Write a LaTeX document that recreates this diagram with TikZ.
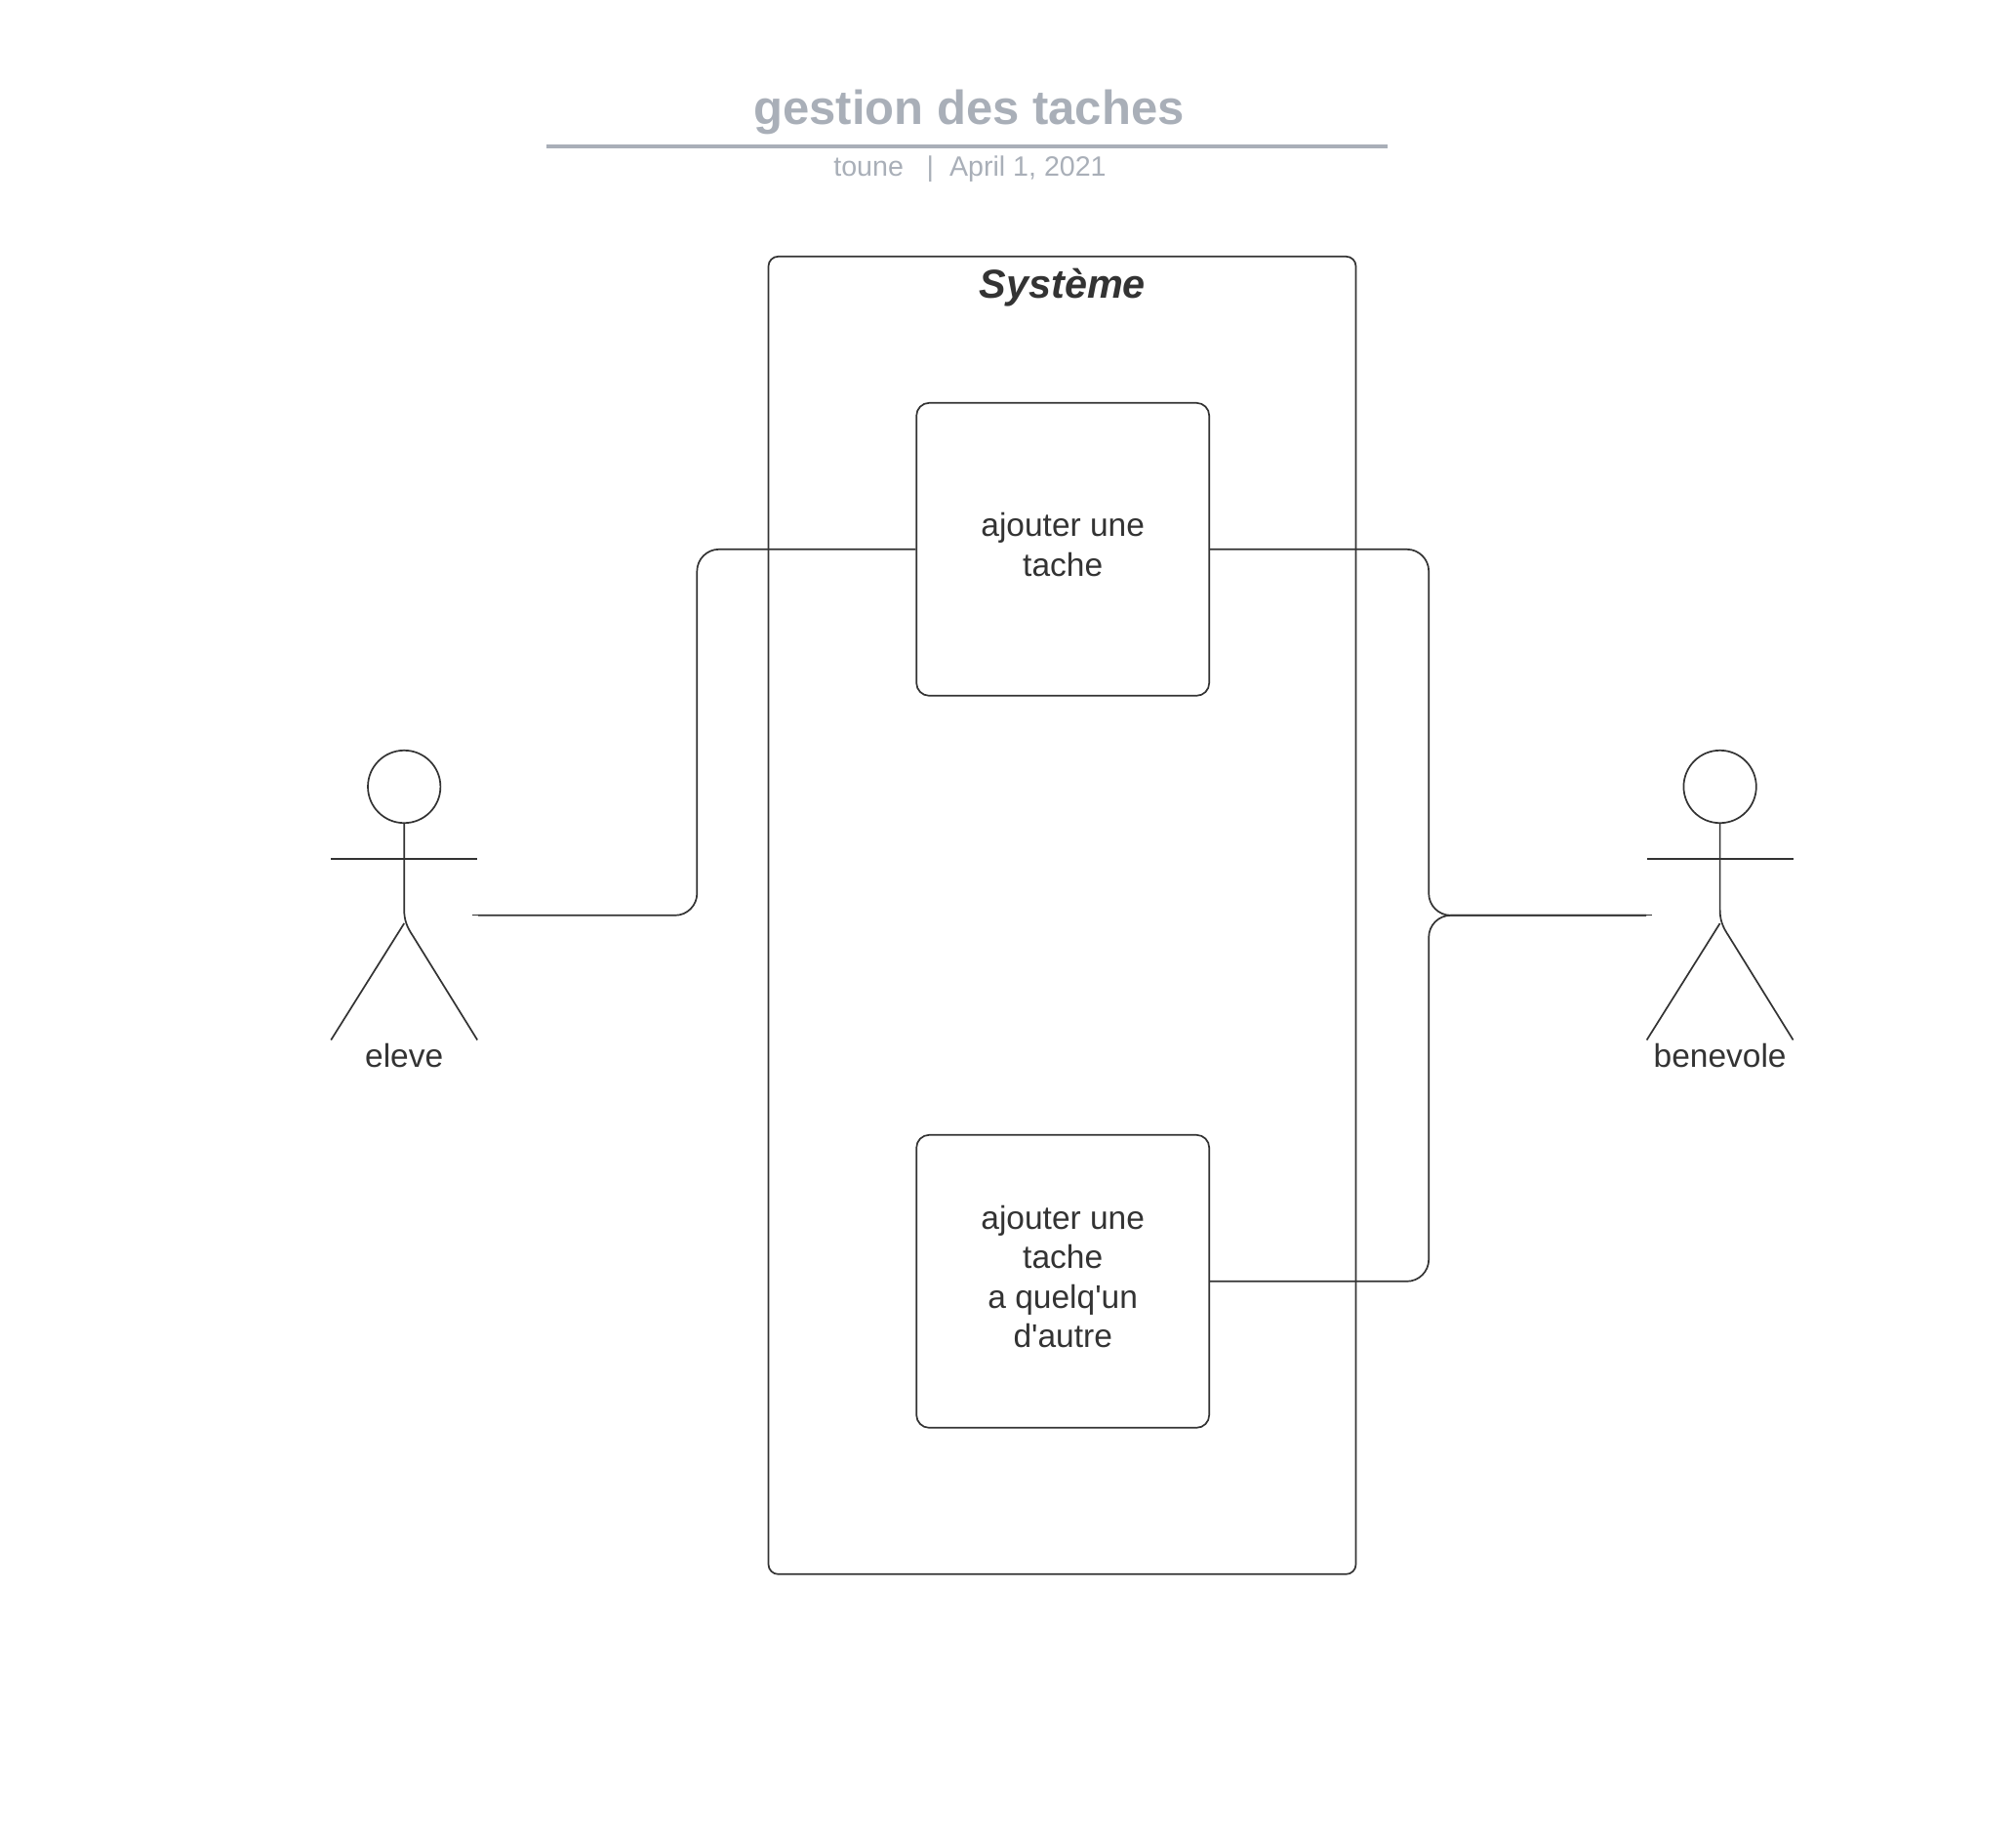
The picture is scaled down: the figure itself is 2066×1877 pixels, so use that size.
\documentclass[tikz,border=0pt]{standalone}
\usepackage{fontspec}
\setmainfont{Liberation Sans}[Ligatures=TeXOff]
\definecolor{ink}{HTML}{333333}
\definecolor{ttl}{HTML}{A9AFB8}
\tikzset{
  x=1pt,y=-1pt,
  ln/.style={draw=ink,line width=1.7pt},
  conn/.style={ln,rounded corners=22.5pt},
  stub/.style={draw=ink,line width=1pt},
  usecase/.style={draw=ink,line width=1.7pt,rounded corners=13pt,minimum width=300pt,minimum height=300pt,inner sep=0pt},
  casetext/.style={align=center,text=ink,inner sep=0pt,font=\fontsize{33.5pt}{40.5pt}\selectfont},
  sysbox/.style={draw=ink,line width=1.7pt,rounded corners=10pt,minimum width=602pt,minimum height=1350pt,inner sep=0pt},
  actorlabel/.style={text=ink,font=\fontsize{33.5pt}{40pt}\selectfont,inner sep=0pt,anchor=base},
}
\newcommand{\actor}[1]{%
  \draw[ln] (#1,806) circle[radius=37.2];
  \draw[ln] (#1,843.2) -- (#1,932) .. controls (#1,943) and (#1+3,950) .. (#1+9,959) -- (#1+75,1065.5);
  \draw[ln] (#1-75,880) -- (#1+75,880);
  \draw[ln] (#1,946) -- (#1-75,1065.5);
}
\begin{document}
\begin{tikzpicture}
\useasboundingbox (0,0) rectangle (2066,1877);
\node[sysbox] (sys) at (1088.5,937.8) {};
\node[usecase] (add) at (1089.2,562.8) {};
\node[usecase] (other) at (1089.2,1312.8) {};
\node[casetext] (addtext) at (1089.2,558) {ajouter une\\tache};
\node[casetext] (othertext) at (1089.2,1308) {ajouter une\\tache\\a quelq'un\\d'autre};
\node[font=\bfseries\itshape\fontsize{41.4pt}{50pt}\selectfont,text=ink,anchor=base,inner sep=0pt] (systitle) at (1088.8,305.5) {Système};
\node[font=\bfseries\fontsize{49pt}{60pt}\selectfont,text=ttl,anchor=base,inner sep=0pt] (title) at (993,127) {gestion des taches};
\coordinate (tl) at (560,150);
\coordinate (tr) at (1422,150);
\draw[draw=ttl,line width=4pt] (tl) -- (tr);
\node[font=\fontsize{28.6pt}{35pt}\selectfont,text=ttl,anchor=base,inner sep=0pt] (sub) at (994,180) {toune \ \ |\ \ April 1, 2021};
\actor{414.2}
\actor{1762.6}
\node[actorlabel] (eleve) at (414.2,1093) {eleve};
\node[actorlabel] (benevole) at (1762.6,1093) {benevole};
\coordinate (ee) at (484,937.8);
\coordinate (eh) at (490,937.8);
\coordinate (bh) at (1687,937.8);
\coordinate (be) at (1693,937.8);
\draw[stub] (ee) -- (eh);
\draw[stub] (bh) -- (be);
\draw[conn] (eh) -- (714.3,937.8) -- (714.3,562.8) -- (add.west);
\draw[conn] (add.east) -- (1464.2,562.8) -- (1464.2,937.8) -- (bh);
\draw[conn] (other.east) -- (1464.2,1312.8) -- (1464.2,937.8) -- (bh);
\end{tikzpicture}
\end{document}
